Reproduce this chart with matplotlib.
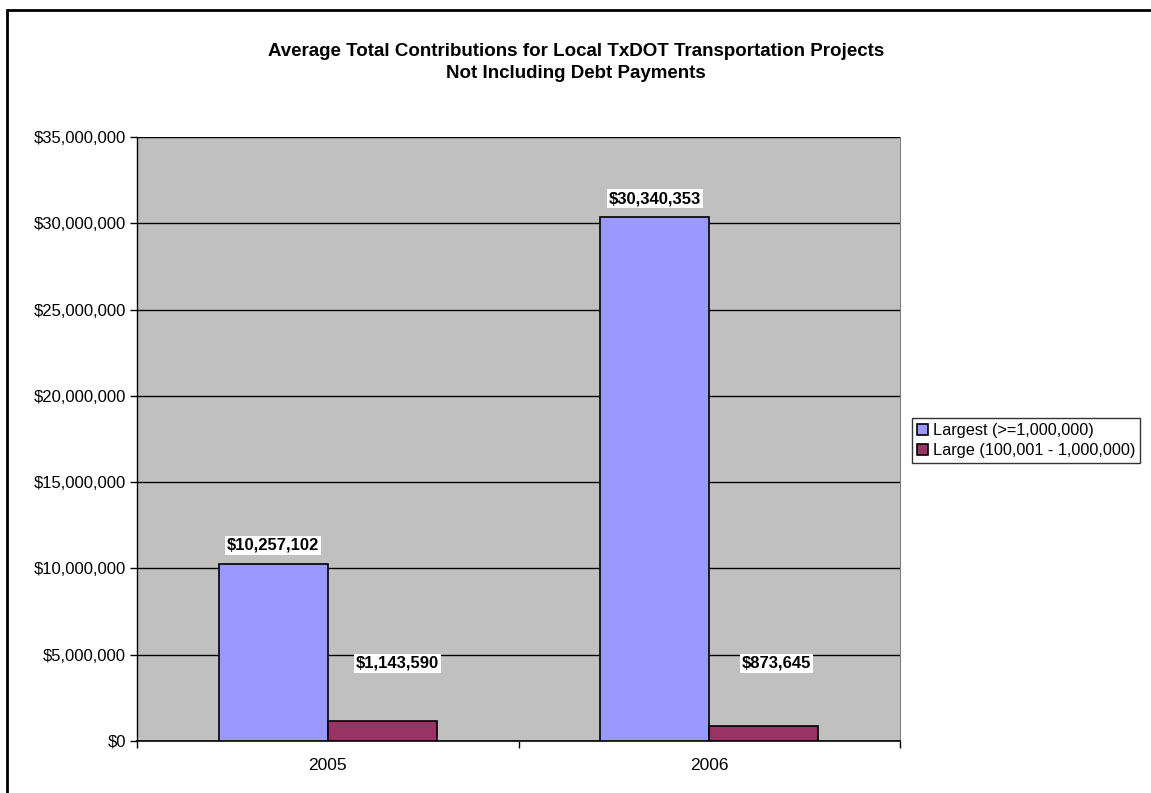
import matplotlib.pyplot as plt
from matplotlib.patches import Rectangle
from matplotlib.ticker import FuncFormatter

plt.rcParams['font.family'] = ['Liberation Sans', 'DejaVu Sans']

# data
years = ['2005', '2006']
largest = [10257102, 30340353]
large = [1143590, 873645]
series_names = ['Largest (>=1,000,000)', 'Large (100,001 - 1,000,000)']

fig = plt.figure(figsize=(11.51, 7.93), dpi=100)
W, H = 1151, 793
ax = fig.add_axes([137 / W, 1 - 741 / H, (900 - 137) / W, (741 - 137) / H])
ax.set_facecolor('#C0C0C0')

# outer chart border (right/bottom fall outside the image)
fig.patches.append(Rectangle((7.5 / W, -0.1), 1.2, 1 - 10.5 / H + 0.1,
                             transform=fig.transFigure, fill=False,
                             edgecolor='black', linewidth=2))

bw = 109 / 381
centers = [0.5, 1.5]
b1 = ax.bar([c - bw / 2 for c in centers], largest, width=bw, color='#9999FF',
            edgecolor='black', linewidth=1.2, zorder=3, label=series_names[0])
b2 = ax.bar([c + bw / 2 for c in centers], large, width=bw, color='#993366',
            edgecolor='black', linewidth=1.2, zorder=3, label=series_names[1])

box = dict(facecolor='white', edgecolor='none', pad=1.5)
for i, v in enumerate(largest):
    ax.annotate('${:,}'.format(v), (centers[i] - bw / 2, v), xytext=(0, 13.5),
                textcoords='offset points', ha='center', va='center',
                fontsize=12, fontweight='bold', bbox=box, zorder=5)
for i, v in enumerate(large):
    ax.annotate('${:,}'.format(v), (centers[i] + bw / 2, 4.5e6),
                xytext=(11 - i * 2, 0), textcoords='offset points',
                ha='center', va='center', fontsize=12, fontweight='bold',
                bbox=box, zorder=5)

ax.set_xlim(0, 2)
ax.set_ylim(0, 35e6)
ax.set_yticks(range(0, 35000001, 5000000))
ax.yaxis.set_major_formatter(FuncFormatter(lambda v, p: '${:,.0f}'.format(v)))
ax.set_xticks([0, 1, 2])
ax.set_xticklabels([])
ax.set_xticks(centers, minor=True)
ax.set_xticklabels(years, minor=True)
ax.tick_params(axis='x', which='minor', length=0, pad=12, labelsize=12.5)
ax.tick_params(axis='x', which='major', length=5, width=1, direction='out')
ax.tick_params(axis='y', length=5, width=1, direction='out', labelsize=12, pad=3)
ax.grid(axis='y', color='black', linewidth=1, zorder=1)
ax.set_axisbelow(True)
for s in ['top', 'right']:
    ax.spines[s].set_color('#808080')
ax.spines['top'].set_visible(False)
ax.spines['left'].set_linewidth(1)
ax.spines['bottom'].set_linewidth(1.2)

fig.text(576 / W, 1 - 52 / H, 'Average Total Contributions for Local TxDOT Transportation Projects',
         ha='center', va='center', fontsize=13.5, fontweight='bold')
fig.text(576 / W, 1 - 73 / H, 'Not Including Debt Payments',
         ha='center', va='center', fontsize=13.5, fontweight='bold')

leg = fig.legend(loc='center left', bbox_to_anchor=(912 / W, 1 - 440.5 / H),
                 fontsize=11.7, frameon=True, fancybox=False, handlelength=0.7,
                 handleheight=0.7, handletextpad=0.3, borderpad=0.3,
                 labelspacing=0.3, borderaxespad=0)
leg.get_frame().set_edgecolor('black')
leg.get_frame().set_linewidth(1)

fig.savefig('out.png', dpi=100)
